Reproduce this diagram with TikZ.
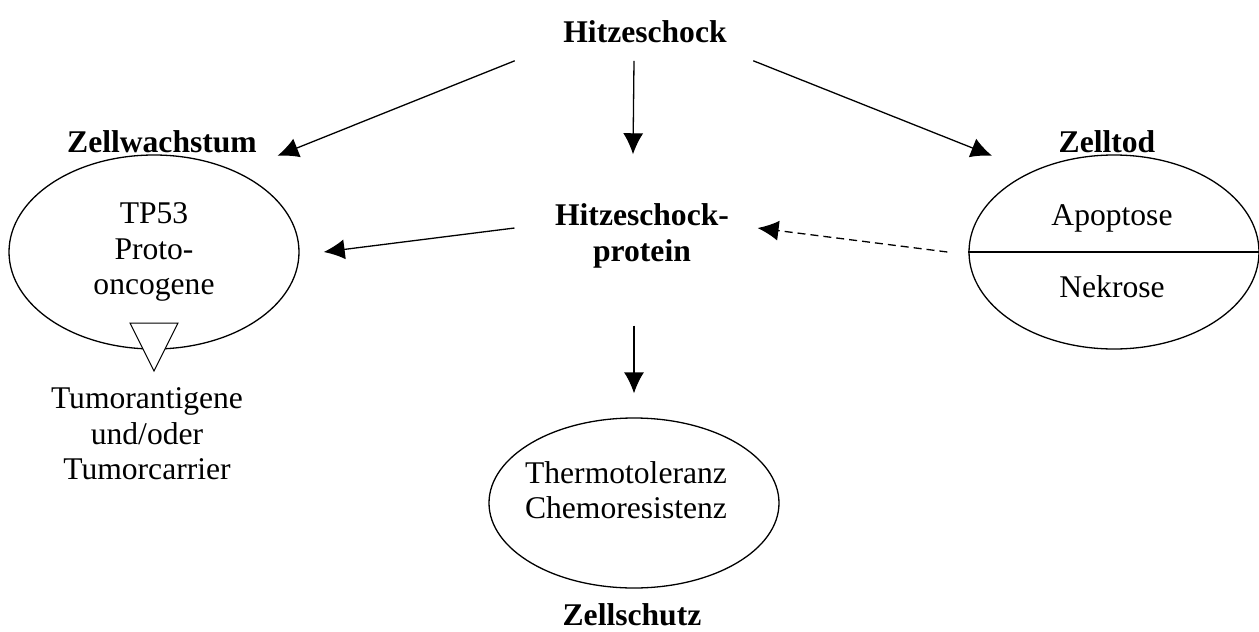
\documentclass[tikz,border=0pt]{standalone}
\usepackage{fontspec}
\setmainfont{Liberation Serif}
\usetikzlibrary{arrows.meta}
\usetikzlibrary{shapes}

\begin{document}
\begin{tikzpicture}[x=1pt,y=-1pt,line width=1.3pt,inner sep=0pt,
  every node/.style={font=\fontsize{31.6}{35.5}\selectfont,align=center},
  titel/.style={font=\fontsize{31.6}{35.5}\selectfont\bfseries},
  oval/.style={draw,ellipse,minimum width=290pt,minimum height=194pt},
  >={Latex[length=21pt,width=20pt]}]
\useasboundingbox (0,0) rectangle (1259,632);
\node[titel] (H) at (645,32) {Hitzeschock};
\node[titel] (HSP) at (642,236) {Hitzeschock-\\protein};
\node[titel] (Zw) at (162,142) {Zellwachstum};
\node[titel] (Zt) at (1107,142) {Zelltod};
\node[titel] (Zs) at (632,615) {Zellschutz};
% Zellwachstum
\node[oval] (L) at (154,252) {TP53\\Proto-\\oncogene};
\draw[line width=1pt,fill=white] (130,323) -- (178,323) -- (154,371) -- cycle;
\node (Tum) at (147,434) {Tumorantigene\\und/oder\\Tumorcarrier};
% Zelltod
\node[oval] (R) at (1114,252) {};
\draw (R.west) -- (R.east);
\node[anchor=base] (Ap) at (1112,225) {Apoptose};
\node[anchor=base] (Nk) at (1112,297) {Nekrose};
% Zellschutz
\node[oval,minimum height=170pt] (B) at (634,503) {};
\node (T) at (626,490) {Thermotoleranz\\Chemoresistenz};
% Pfeile
\draw[->] ([xshift=-48pt,yshift=-17pt]H.south west) -- ([xshift=20pt,yshift=-2pt]Zw.south east);
\draw[->] ([xshift=-11pt,yshift=-17pt]H.south) -- ([xshift=-9pt,yshift=49pt]HSP.north);
\draw[->] ([xshift=26pt,yshift=-17pt]H.south east) -- ([xshift=-66pt,yshift=-2pt]Zt.south west);
\draw[->] ([xshift=-40pt,yshift=8pt]HSP.west) -- ([xshift=24pt]L.east);
\draw[->,dash pattern=on 8pt off 5pt] ([xshift=-21pt]R.west) -- ([xshift=28pt,yshift=8pt]HSP.east);
\draw[->] ([xshift=-8pt,yshift=-57pt]HSP.south) -- ([yshift=24pt]B.north);
\end{tikzpicture}
\end{document}
